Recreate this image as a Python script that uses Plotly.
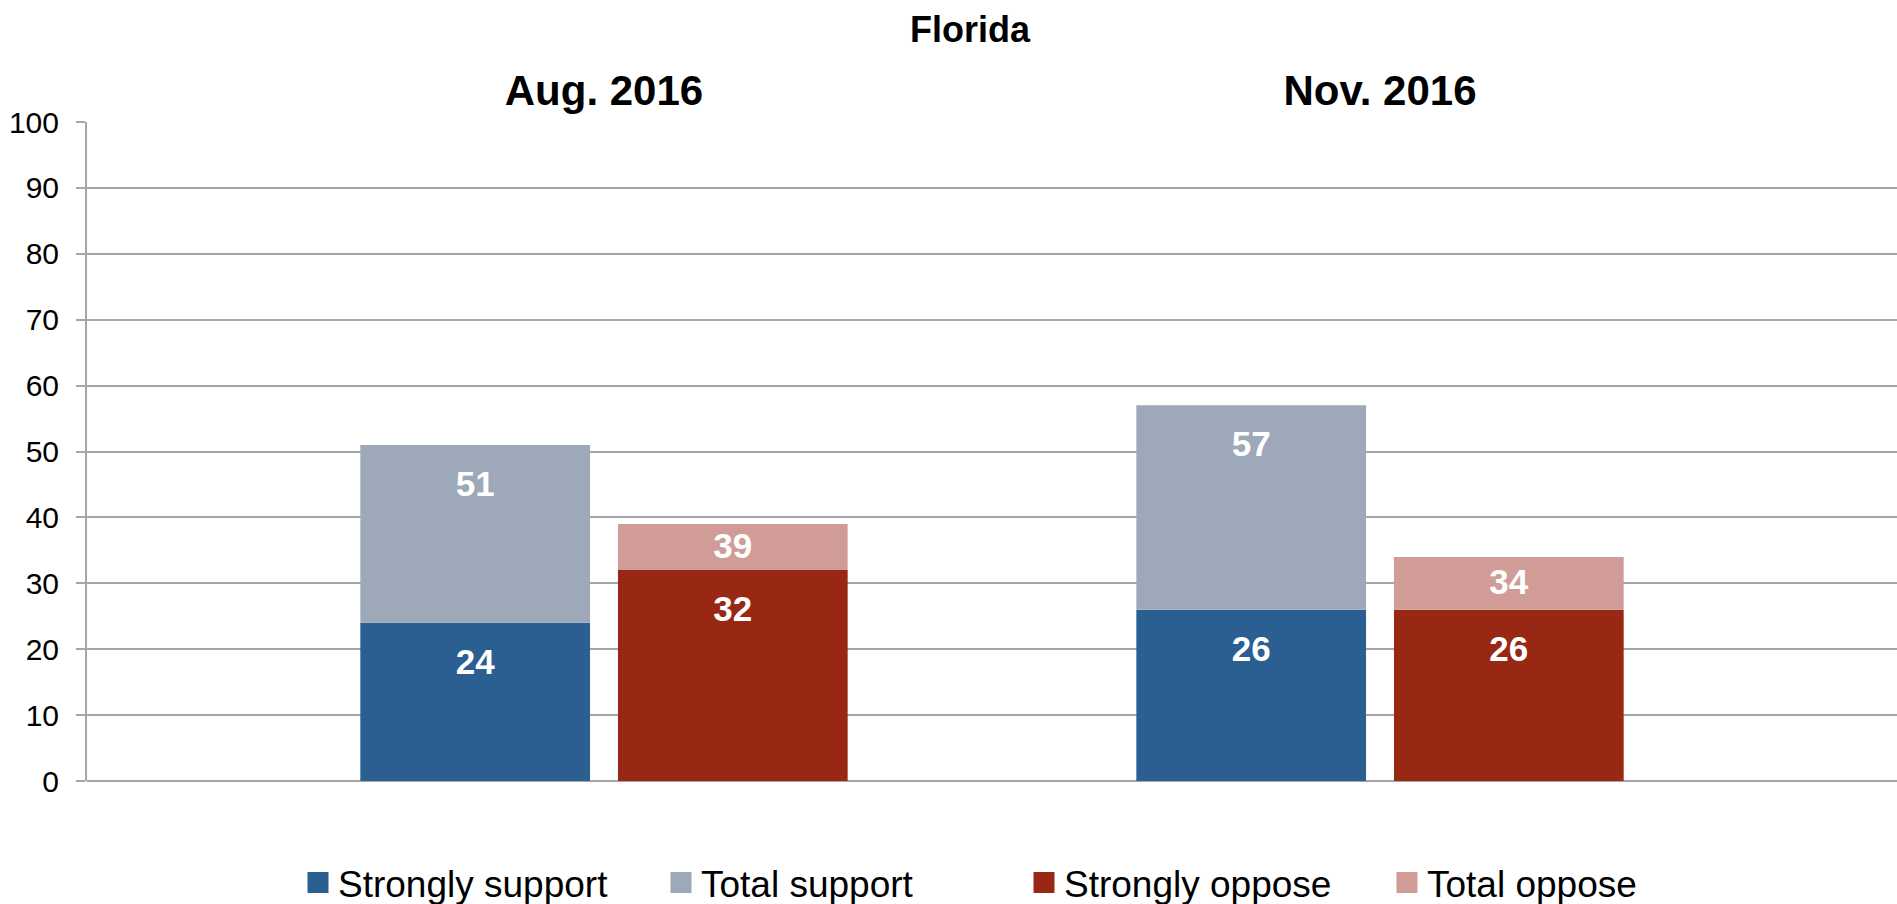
import plotly.graph_objects as go

# ---- data ----
periods = ["Aug. 2016", "Nov. 2016"]
strongly_support = [24, 26]
total_support = [51, 57]
strongly_oppose = [32, 26]
total_oppose = [39, 34]
y_ticks = [0, 10, 20, 30, 40, 50, 60, 70, 80, 90, 100]
series_names = ["Strongly support", "Total support", "Strongly oppose", "Total oppose"]

# ---- style ----
FONT = "Arial, 'Liberation Sans', sans-serif"
C_SS = "#2B5F91"
C_TS = "#9DA8B9"
C_SO = "#982714"
C_TO = "#D19B97"
GRID = "#A6A6A6"
colors = [C_SS, C_TS, C_SO, C_TO]

BAR_W = 0.296
OFF_SUP = -0.314
OFF_OPP = 0.018

idx = list(range(len(periods)))


def centers(off):
    return [i + off + BAR_W / 2 for i in idx]


def label_pos(lo, hi):
    # Excel-like "inside end" label; centered when the segment is short
    return [max(h - 6.4, (l + h) / 2 - 0.3) for l, h in zip(lo, hi)]


fig = go.Figure()

zeros = [0] * len(idx)
segments = [
    (OFF_SUP, zeros, strongly_support),
    (OFF_SUP, strongly_support, total_support),
    (OFF_OPP, zeros, strongly_oppose),
    (OFF_OPP, strongly_oppose, total_oppose),
]

for name, color, (off, lo, hi) in zip(series_names, colors, segments):
    fig.add_trace(go.Bar(name=name, x=idx, y=[h - l for l, h in zip(lo, hi)], base=lo,
                         offset=off, width=BAR_W, showlegend=False,
                         marker=dict(color=color, line=dict(width=0))))

for off, lo, hi in segments:
    fig.add_trace(go.Scatter(x=centers(off), y=label_pos(lo, hi), mode="text",
                             text=[str(v) for v in hi], textposition="middle center",
                             textfont=dict(family=FONT, size=35, color="white", weight="bold"),
                             showlegend=False, hoverinfo="skip"))

# legend entries with larger square swatches (as in the original)
for name, color in zip(series_names, colors):
    fig.add_trace(go.Scatter(name=name, x=[None], y=[None], mode="markers",
                             marker=dict(symbol="square", size=16, color=color,
                                         line=dict(width=5, color=color)),
                             showlegend=True, hoverinfo="skip"))

fig.update_layout(
    width=1897, height=904,
    barmode="overlay",
    paper_bgcolor="white", plot_bgcolor="white",
    margin=dict(l=87, r=0, t=122, b=123, autoexpand=False),
    font=dict(family=FONT, color="black"),
    title=dict(text="Florida", x=970 / 1897, xanchor="center", xref="container",
               y=1 - 29 / 904, yanchor="middle", yref="container", automargin=False,
               font=dict(family=FONT, size=36, color="black", weight="bold")),
    xaxis=dict(range=[-0.6662, 1.6662], tickvals=idx, ticktext=periods, side="top",
               showgrid=False, zeroline=False, showline=False, ticks="",
               tickfont=dict(family=FONT, size=42, color="black", weight="bold"),
               ticklabelstandoff=8, automargin=False),
    yaxis=dict(range=[0, 100], tickvals=y_ticks, showgrid=True, gridcolor=GRID, gridwidth=2,
               zeroline=True, zerolinecolor=GRID, zerolinewidth=2,
               showline=True, linecolor=GRID, linewidth=2,
               ticks="outside", ticklen=9, tickwidth=2, tickcolor=GRID,
               tickfont=dict(family=FONT, size=30, color="black"),
               ticklabelstandoff=11, automargin=False),
    legend=dict(orientation="h", x=(298 - 87) / 1810, xanchor="left",
                y=(781 - 883) / 659, yanchor="middle",
                font=dict(family=FONT, size=37, color="black"),
                entrywidth=318, bgcolor="rgba(0,0,0,0)", traceorder="normal"),
    showlegend=True,
)

# the page body has a default 8px margin; remove it so the figure fills the window
fig.write_html("out.html", config={"displayModeBar": False},
               post_script="document.body.style.margin='0';document.body.style.overflow='hidden';")
